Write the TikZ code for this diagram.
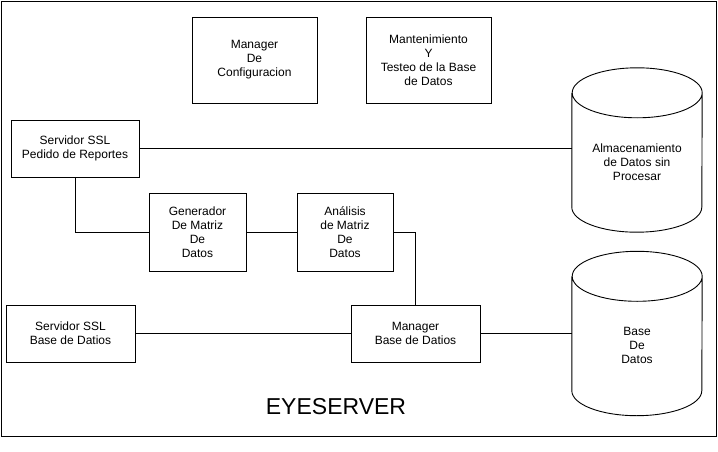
\documentclass[tikz,border=0pt]{standalone}
\usepackage{fontspec}
\setmainfont{Liberation Sans}
\usetikzlibrary{calc}

\tikzset{
  caja/.style={draw, line width=0.9pt, align=center, inner sep=0pt,
    font=\fontsize{12}{14}\selectfont},
  cilindro/.style={align=center, inner sep=0pt,
    minimum width=130pt, minimum height=140pt,
    font=\fontsize{12}{14}\selectfont},
  linea/.style={line width=0.9pt}
}

\begin{document}
\begin{tikzpicture}[x=1pt,y=1pt]

\useasboundingbox (0,0) rectangle (718,451);
\draw[linea] (1,15) rectangle (716,450);

\node[caja, minimum width=125pt, minimum height=86pt] (mconf) at (254.5,391) {Manager\\De\\Configuracion};
\node[caja, minimum width=125pt, minimum height=86pt] (mtest) at (428.5,391) {Mantenimiento\\Y\\Testeo de la Base\\de Datos};

\node[caja, minimum width=128pt, minimum height=57pt] (srvped) at (75,302.5) {Servidor SSL\\Pedido de Reportes};
\node[caja, minimum width=97pt, minimum height=78pt] (genmat) at (197.5,219) {Generador\\De Matriz\\De\\Datos};
\node[caja, minimum width=96pt, minimum height=78pt] (anamat) at (345,219) {Análisis\\de Matriz\\De\\Datos};

\node[caja, minimum width=129pt, minimum height=57pt] (srvbd) at (70.5,117.5) {Servidor SSL\\Base de Datios};
\node[caja, minimum width=129pt, minimum height=57pt] (manbd) at (415.5,117.5) {Manager\\Base de Datios};

\node[cilindro] (almac) at (637,289) {Almacenamiento\\de Datos sin\\Procesar};
\node[cilindro] (basedd) at (637,105.5) {Base\\De\\Datos};

% cilindros
\foreach \c in {almac,basedd}{
  \draw[linea] ($(\c.north west)+(0,-1)$) -- ($(\c.south west)+(0,25)$)
    arc[start angle=180, end angle=360, x radius=65, y radius=25]
    -- ($(\c.north east)+(0,-1)$)
    arc[start angle=0, end angle=360, x radius=65, y radius=25];
}

\node[font=\fontsize{23}{27}\selectfont, anchor=base] (titulo) at (336,37) {EYESERVER};

% conexiones
\draw[linea] (srvped.east) -- (srvped.east -| almac.west);
\draw[linea] (srvped.south) |- (genmat.west);
\draw[linea] (genmat.east) -- (anamat.west);
\draw[linea] (anamat.east) -| (manbd.north);
\draw[linea] (srvbd.east) -- (manbd.west);
\draw[linea] (manbd.east) -- (manbd.east -| basedd.west);

\end{tikzpicture}
\end{document}
